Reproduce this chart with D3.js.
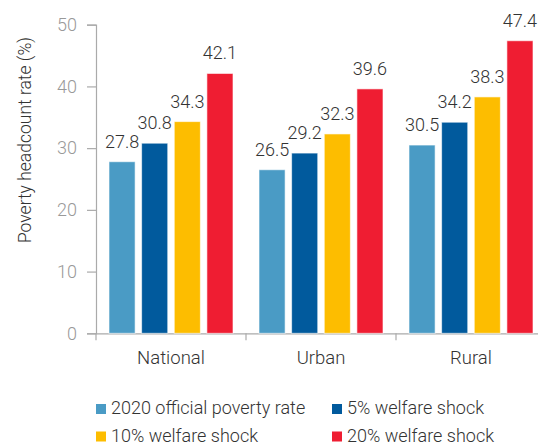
<!DOCTYPE html>
<html>
<head>
<meta charset="utf-8">
<script src="https://cdn.jsdelivr.net/npm/d3@7"></script>
<style>
  html, body { margin: 0; padding: 0; background: #fff; }
  svg text { font-family: Roboto, "Noto Sans", sans-serif; font-weight: 300; }
</style>
</head>
<body>
<svg id="chart" width="538" height="446"></svg>
<script>
const categories = ["National", "Urban", "Rural"];
const seriesNames = ["2020 official poverty rate", "5% welfare shock", "10% welfare shock", "20% welfare shock"];
const seriesColors = ["#4a9bc5", "#015a9d", "#fdbd00", "#ef1d32"];
const official2020 = [27.8, 26.5, 30.5];
const shock5 = [30.8, 29.2, 34.2];
const shock10 = [34.3, 32.3, 38.3];
const shock20 = [42.1, 39.6, 47.4];
const yTicks = [0, 10, 20, 30, 40, 50];
const yTitle = "Poverty headcount rate (%)";

const seriesValues = [official2020, shock5, shock10, shock20];

const svg = d3.select("#chart");
const plotLeft = 96, plotRight = 546, plotTop = 24.7, plotBottom = 333.3;

const x = d3.scaleBand().domain(categories).range([plotLeft, plotRight]).padding(0);
const xi = d3.scaleBand().domain(seriesNames).range([13, 137]).paddingInner(0.2);
const y = d3.scaleLinear().domain([0, 50]).range([plotBottom, plotTop]);

// Y axis
const yAxis = svg.append("g")
  .attr("transform", `translate(${plotLeft},0)`)
  .call(d3.axisLeft(y).tickValues(yTicks).tickSize(9).tickPadding(10).tickFormat(d3.format("d")));
yAxis.select(".domain").attr("stroke", "#aaa").attr("stroke-width", 1.2);
yAxis.selectAll(".tick line").attr("stroke", "#aaa").attr("stroke-width", 1.2);
yAxis.selectAll(".tick text").attr("fill", "#999").style("font-size", "18px");

// X axis
const xAxis = svg.append("g")
  .attr("transform", `translate(0,${plotBottom})`)
  .call(d3.axisBottom(x).tickSize(0).tickPadding(18));
xAxis.select(".domain").attr("stroke", "#aaa").attr("stroke-width", 1.2);
xAxis.selectAll(".tick text").attr("fill", "#333").style("font-size", "18.5px");
const boundaries = categories.map(c => x(c)).concat([plotRight]);
xAxis.selectAll("line.bound").data(boundaries).enter().append("line")
  .attr("class", "bound")
  .attr("x1", d => d).attr("x2", d => d)
  .attr("y1", 0).attr("y2", 7)
  .attr("stroke", "#aaa").attr("stroke-width", 1.2);

// Bars
const groups = svg.append("g").selectAll("g")
  .data(categories).enter().append("g")
  .attr("transform", d => `translate(${x(d)},0)`);

groups.each(function(cat, ci) {
  const g = d3.select(this);
  seriesNames.forEach((s, si) => {
    const v = seriesValues[si][ci];
    g.append("rect")
      .attr("x", xi(s))
      .attr("y", y(v))
      .attr("width", xi.bandwidth())
      .attr("height", y(0) - y(v))
      .attr("fill", seriesColors[si])
      .attr("stroke", "#ffffff")
      .attr("stroke-opacity", 0.6)
      .attr("stroke-width", 1);
    g.append("text")
      .attr("x", xi(s) + xi.bandwidth() / 2)
      .attr("y", y(v) - 14)
      .attr("text-anchor", "middle")
      .attr("fill", "#333")
      .style("font-size", "18px")
      .text(d3.format(".1f")(v));
  });
});

// Y title
svg.append("text")
  .attr("transform", `translate(31,140) rotate(-90)`)
  .attr("text-anchor", "middle")
  .attr("fill", "#333")
  .style("font-size", "17.5px")
  .text(yTitle);

// Legend
const legendPos = [[96, 414], [332, 414], [96, 441.5], [332, 441.5]];
const legend = svg.append("g");
seriesNames.forEach((s, i) => {
  const [lx, ly] = legendPos[i];
  legend.append("rect")
    .attr("x", lx).attr("y", ly - 10)
    .attr("width", 10).attr("height", 10)
    .attr("fill", seriesColors[i]);
  legend.append("text")
    .attr("x", lx + 15).attr("y", ly)
    .attr("fill", "#333")
    .style("font-size", "18px")
    .text(s);
});
</script>
</body>
</html>
